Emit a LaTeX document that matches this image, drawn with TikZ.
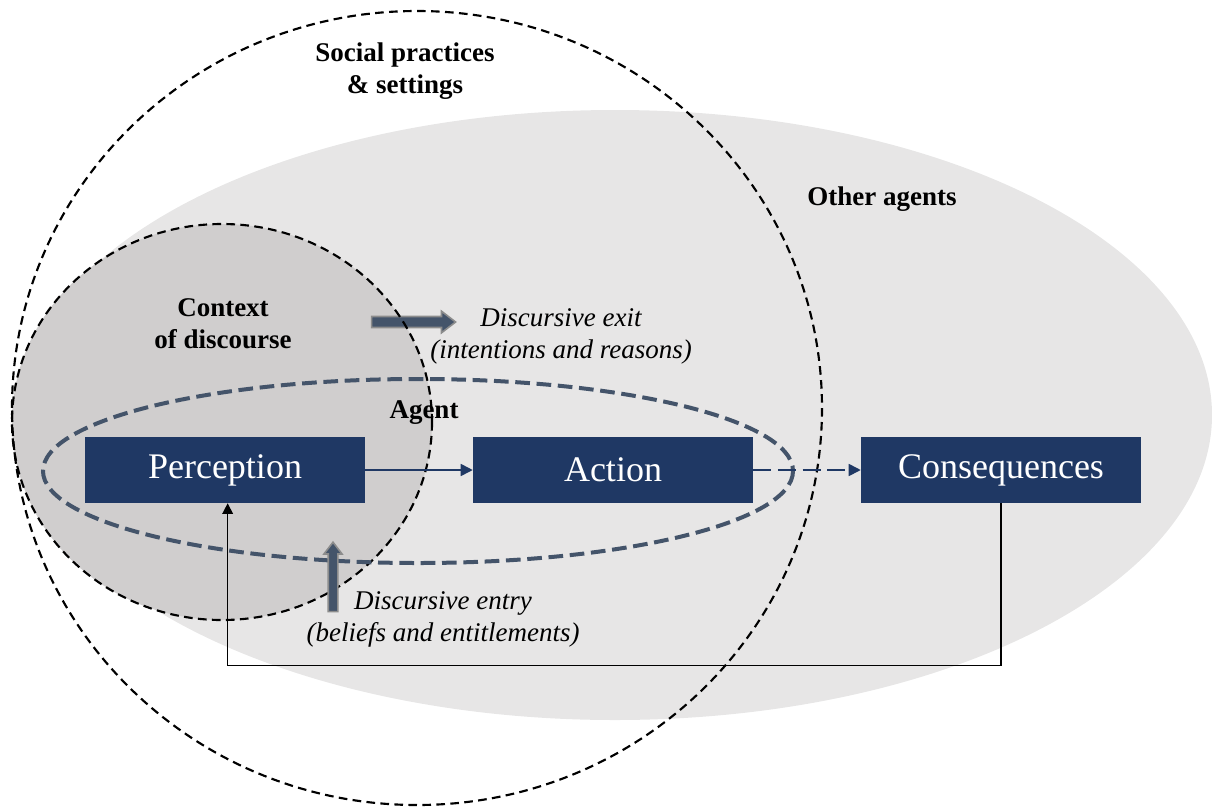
\documentclass[tikz,border=0pt]{standalone}
\usepackage{fontspec}
\setmainfont{Liberation Serif}
\usetikzlibrary{shapes.geometric, shapes.arrows, arrows.meta}
\definecolor{boxnavy}{RGB}{31,56,100}
\definecolor{agentblue}{RGB}{68,84,106}
\definecolor{othergrey}{RGB}{231,230,230}
\definecolor{contextgrey}{RGB}{208,206,206}
\definecolor{arrowrim}{RGB}{140,140,140}
\tikzstyle{stage} = [rectangle, minimum width=210pt, minimum height=49.5pt, text centered, fill=boxnavy, text=white, font=\fontsize{27}{32}\selectfont]
\tikzstyle{zonetext} = [align=center, font=\bfseries\fontsize{20.25}{24}\selectfont]
\tikzstyle{notetext} = [align=center, font=\itshape\fontsize{20.25}{24}\selectfont]
\tikzstyle{zone} = [black, line width=1.6pt, dash pattern=on 6.5pt off 4pt]
\tikzstyle{agentline} = [agentblue, line width=3pt, dash pattern=on 11pt off 5pt]
\tikzstyle{fatarrow} = [single arrow, draw=arrowrim, fill=agentblue, line width=1.2pt, inner xsep=0pt, inner ysep=3.5pt, single arrow head extend=4pt, single arrow tip angle=75, single arrow head indent=0pt]
\tikzstyle{flow} = [boxnavy, line width=1.2pt, -{Triangle[length=9pt, width=9pt]}]
\tikzstyle{feedback} = [black, line width=1.1pt, -{Triangle[length=8pt, width=8pt]}]

\begin{document}
\begin{tikzpicture}[x=0.75pt, y=-0.75pt, node distance=291pt]
	\useasboundingbox (0,0) rectangle (1212,807);
	% regions
	\fill [othergrey] (615,415) ellipse [x radius=597, y radius=305];
	\fill [contextgrey] (222,422) ellipse [x radius=210, y radius=198];
	\node (exitarrow) [fatarrow, minimum height=63pt] at (410,322) {};
	\draw [zone] (222,422) ellipse [x radius=210, y radius=198];
	\draw [zone] (417,408) ellipse [x radius=405, y radius=397];
	\draw [agentline] (418,471) ellipse [x radius=375, y radius=92];
	\node (entryarrow) [fatarrow, minimum height=52pt, inner ysep=3pt, single arrow head extend=3.2pt, rotate=90] at (333,580) {};
	% labels
	\node (social) [zonetext] at (405,71) {Social practices\\\& settings};
	\node (others) [zonetext] at (882,199) {Other agents};
	\node (context) [zonetext] at (223,324) {Context\\of discourse};
	\node (agent) [zonetext] at (424,413) {Agent};
	\node (exit) [notetext] at (561,336) {Discursive exit\\(intentions and reasons)};
	\node (entry) [notetext] at (443,619) {Discursive entry\\(beliefs and entitlements)};
	% stages
	\node (perc) [stage] at (225,470) {Perception};
	\node (act) [stage, right of=perc] {Action};
	\node (cons) [stage, right of=act] {Consequences};
	\draw [flow] (perc) -- (act);
	\draw [flow, dash pattern=on 13.5pt off 5pt] (act) -- (cons);
	\draw [feedback] (cons.south) -- ++(0,162) -| ([xshift=2pt]perc.south);
\end{tikzpicture}
\end{document}
